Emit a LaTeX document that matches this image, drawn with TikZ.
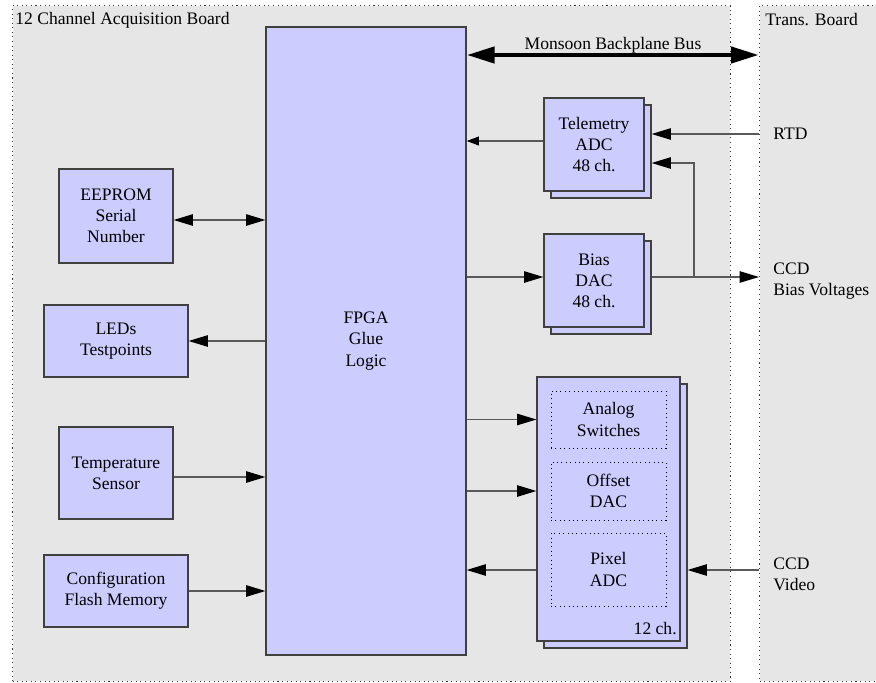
\documentclass[tikz,border=0pt]{standalone}
\usepackage{fontspec}
\setmainfont{Liberation Serif}[Ligatures=TeX]
\usepackage{xcolor}
\usetikzlibrary{arrows.meta,positioning}

\definecolor{blkfill}{RGB}{204,204,255}
\definecolor{brdfill}{RGB}{230,230,230}

\tikzset{
  board/.style={draw=black!80, dotted, line width=0.6pt, fill=brdfill, inner sep=0pt, anchor=north west},
  blk/.style={draw=black!75, fill=blkfill, line width=0.7pt, align=center, inner sep=0pt},
  sub/.style={draw=black, dotted, line width=0.5pt, align=center, inner sep=0pt},
  lbl/.style={inner sep=0pt, align=left, anchor=west},
  wire/.style={draw=black!65, line width=0.7pt},
  arr/.style={wire, -{Triangle[length=11pt,width=6.5pt,color=black]}},
  sarr/.style={wire, -{Triangle[length=7pt,width=5pt,color=black]}},
  darr/.style={wire, {Triangle[length=11pt,width=6.5pt,color=black]}-{Triangle[length=11pt,width=6.5pt,color=black]}},
  bus/.style={line width=2.8pt, {Triangle[length=16pt,width=9pt]}-{Triangle[length=16pt,width=9pt]}}
}

\begin{document}
\begin{tikzpicture}[x=0.02cm, y=-0.02cm]
    \useasboundingbox (0,0) rectangle (876,683);
    % boards
    \node[board, minimum width=14.36cm, minimum height=13.52cm] (acq) at (12,5) {};
    \node[board, minimum width=2.6cm, minimum height=13.52cm] (trans) at (759,5) {};
    \node[lbl] (acqlbl) at (15,20) {12 Channel Acquisition Board};
    \node[lbl] (translbl) at (765,20) {Trans. Board};

    % FPGA
    \node[blk, minimum width=4cm, minimum height=12.56cm] (fpga) at (366,341) {FPGA\\Glue\\Logic};

    % left side
    \node[blk, minimum width=2.28cm, minimum height=1.88cm] (eeprom) at (116,216) {EEPROM\\Serial\\Number};
    \node[blk, minimum width=2.88cm, minimum height=1.44cm] (leds) at (116,341) {LEDs\\Testpoints};
    \node[blk, minimum width=2.28cm, minimum height=1.84cm] (temp) at (116,473) {Temperature\\Sensor};
    \node[blk, minimum width=2.88cm, minimum height=1.44cm] (flash) at (116,591) {Configuration\\Flash Memory};

    % right side, stacked blocks
    \node[blk, minimum width=2cm, minimum height=1.86cm] (tlm2) at (601,151.5) {};
    \node[blk, minimum width=2cm, minimum height=1.86cm] (tlm) at (594,144.5) {Telemetry\\ADC\\48 ch.};
    \node[blk, minimum width=2cm, minimum height=1.86cm] (bias2) at (601,287.5) {};
    \node[blk, minimum width=2cm, minimum height=1.86cm] (bias) at (594,280.5) {Bias\\DAC\\48 ch.};
    \node[blk, minimum width=2.86cm, minimum height=5.28cm] (vid2) at (615.5,516) {};
    \node[blk, minimum width=2.86cm, minimum height=5.28cm] (vid) at (608.5,509) {};
    \node[sub, minimum width=2.3cm, minimum height=1.14cm] (sw) at (608.5,419.5) {Analog\\Switches};
    \node[sub, minimum width=2.3cm, minimum height=1.16cm] (off) at (608.5,491) {Offset\\DAC};
    \node[sub, minimum width=2.3cm, minimum height=1.46cm] (pix) at (608.5,569.5) {Pixel\\ADC};
    \node[inner sep=0pt, anchor=east] (nch) at (677,629) {12 ch.};

    % transition board signals
    \node[lbl] (rtd) at (773,134) {RTD};
    \node[lbl] (bv) at (773,281) {CCD\\Bias Voltages};
    \node[lbl] (vin) at (773,574) {CCD\\Video};

    % bus
    \node[inner sep=0pt] (buslbl) at (613,45) {Monsoon Backplane Bus};
    \coordinate (busy) at (0,55);
    \draw[bus] (fpga.east |- busy) -- (trans.west |- busy);

    % connections
    \draw[darr] (eeprom.east |- 0,220) -- (fpga.west |- 0,220);
    \draw[arr] (fpga.west |- leds) -- (leds.east);
    \draw[arr] (temp.east |- 0,477) -- (fpga.west |- 0,477);
    \draw[arr] (flash.east) -- (fpga.west |- flash);

    \draw[sarr] (tlm.west |- 0,141) -- (fpga.east |- 0,141);
    \draw[arr] (fpga.east |- 0,277) -- (bias.west |- 0,277);
    \draw[arr] (trans.west |- rtd) -- (tlm2.east |- rtd);
    \coordinate (tap) at (694,277);
    \draw[arr] (bias2.east |- tap) -- (trans.west |- tap);
    \draw[arr] (tap) |- (tlm2.east |- 0,163);

    \draw[arr] (fpga.east |- sw) -- (vid.west |- sw);
    \draw[arr] (fpga.east |- off) -- (vid.west |- off);
    \draw[arr] (vid.west |- 0,570) -- (fpga.east |- 0,570);
    \draw[arr] (trans.west |- 0,570) -- (vid2.east |- 0,570);
\end{tikzpicture}
\end{document}
